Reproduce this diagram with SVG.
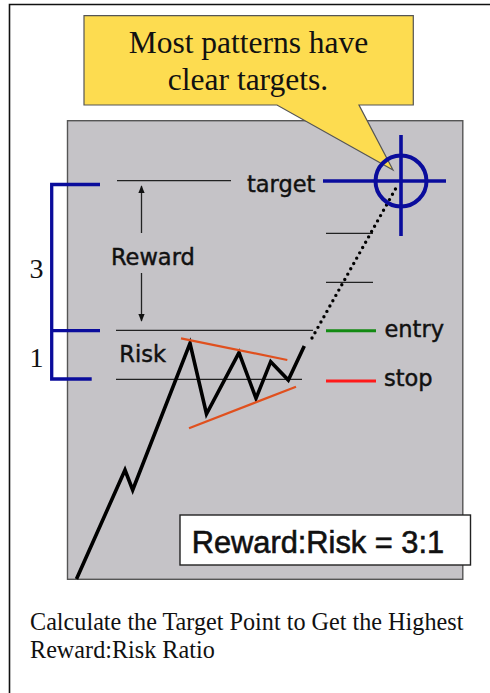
<svg xmlns="http://www.w3.org/2000/svg" width="490" height="693" viewBox="0 0 490 693">
<style>
.lbl{font-family:"DejaVu Sans","Liberation Sans",sans-serif;font-size:22.5px;fill:#111;stroke:#111;stroke-width:0.45}
.serif{font-family:"Liberation Serif","Times New Roman",serif;fill:#111}
.thin{stroke:#222;stroke-width:1.3;fill:none}
.blue{stroke:#0A0C9C;stroke-width:3.3;fill:none}
.price{stroke:#000;stroke-width:3.6;fill:none;stroke-linejoin:miter}
.trend{stroke:#E0501E;stroke-width:2.2;fill:none}
</style>
<defs>
<marker id="ah" viewBox="0 0 10 10" refX="9" refY="5" markerWidth="8" markerHeight="8" markerUnits="userSpaceOnUse" orient="auto">
<path d="M0,1 L10,5 L0,9 Z" fill="#111"/>
</marker>
</defs>
<rect width="490" height="693" fill="#fff"/>
<path d="M9.5,693 V4.5 H490" fill="none" stroke="#111" stroke-width="1.6"/>

<g id="chart-bg">
<rect x="67.5" y="120.7" width="395.3" height="458.6" fill="#C5C3C7" stroke="#555" stroke-width="1.4"/>
</g>

<g id="callout">
<path d="M84,15.7 H413.3 V105 H359 L393,170 L277,105 H84 Z" fill="#FDDC50" stroke="#555" stroke-width="1.2"/>
<text class="serif" x="248.5" y="53.3" font-size="31.5" text-anchor="middle">Most patterns have</text>
<text class="serif" x="248" y="90" font-size="31.5" text-anchor="middle">clear targets.</text>
</g>

<g id="connectors">
<line class="thin" x1="117" y1="180.7" x2="231" y2="180.7"/>
<line class="thin" x1="116" y1="330.3" x2="313" y2="330.3"/>
<line class="thin" x1="116" y1="379.3" x2="302" y2="379.3"/>
<line class="thin" x1="326" y1="233.3" x2="373" y2="233.3"/>
<line class="thin" x1="326" y1="282.3" x2="373" y2="282.3"/>
<line class="thin" x1="141.5" y1="233" x2="141.5" y2="186" marker-end="url(#ah)"/>
<line class="thin" x1="141.5" y1="273" x2="141.5" y2="321" marker-end="url(#ah)"/>
<line x1="312" y1="338" x2="396" y2="188" stroke="#000" stroke-width="3.4" stroke-linecap="round" stroke-dasharray="0 6.1"/>
</g>

<g id="bracket">
<path class="blue" d="M100,184.5 H51.7 V379 H91.7 M51.7,330.7 H100"/>
<text class="serif" x="36.5" y="278" font-size="28" text-anchor="middle">3</text>
<text class="serif" x="36.5" y="366.7" font-size="28" text-anchor="middle">1</text>
</g>

<g id="crosshair">
<line x1="323" y1="181" x2="446" y2="181" stroke="#0A0C9C" stroke-width="3.6"/>
<line x1="401" y1="135" x2="401" y2="236" stroke="#0A0C9C" stroke-width="3.6"/>
<circle cx="401" cy="181" r="25.5" fill="none" stroke="#0A0C9C" stroke-width="4"/>
</g>

<g id="price">
<polyline class="price" points="76.5,579 125,470 132.7,490 190,343.3 206.5,414 239,352.7 256,398.3 270.7,361.7 288.3,380 304.3,346"/>
<line class="trend" x1="181" y1="338.3" x2="287.3" y2="360"/>
<line class="trend" x1="189" y1="428.3" x2="296" y2="386.7"/>
</g>

<g id="labels">
<text class="lbl" x="247" y="191.7">target</text>
<text class="lbl" x="111" y="264.5">Reward</text>
<text class="lbl" x="119.3" y="361.5">Risk</text>
<line x1="326" y1="330.7" x2="376" y2="330.7" stroke="#138A13" stroke-width="3"/>
<text class="lbl" x="384.5" y="336.7">entry</text>
<line x1="326" y1="381" x2="376" y2="381" stroke="#FF1A1A" stroke-width="3"/>
<text class="lbl" x="384" y="386">stop</text>
</g>

<g id="ratio-box">
<rect x="180" y="515" width="290.5" height="50" fill="#fff" stroke="#222" stroke-width="1.4"/>
<text x="191.7" y="552.5" font-family="'Liberation Sans',Arial,sans-serif" font-size="30.8" fill="#111" stroke="#111" stroke-width="0.6">Reward:Risk = 3:1</text>
</g>

<g id="caption">
<text class="serif" x="30" y="630" font-size="24.2">Calculate the Target Point to Get the Highest</text>
<text class="serif" x="30" y="658.3" font-size="24.2">Reward:Risk Ratio</text>
</g>
</svg>
